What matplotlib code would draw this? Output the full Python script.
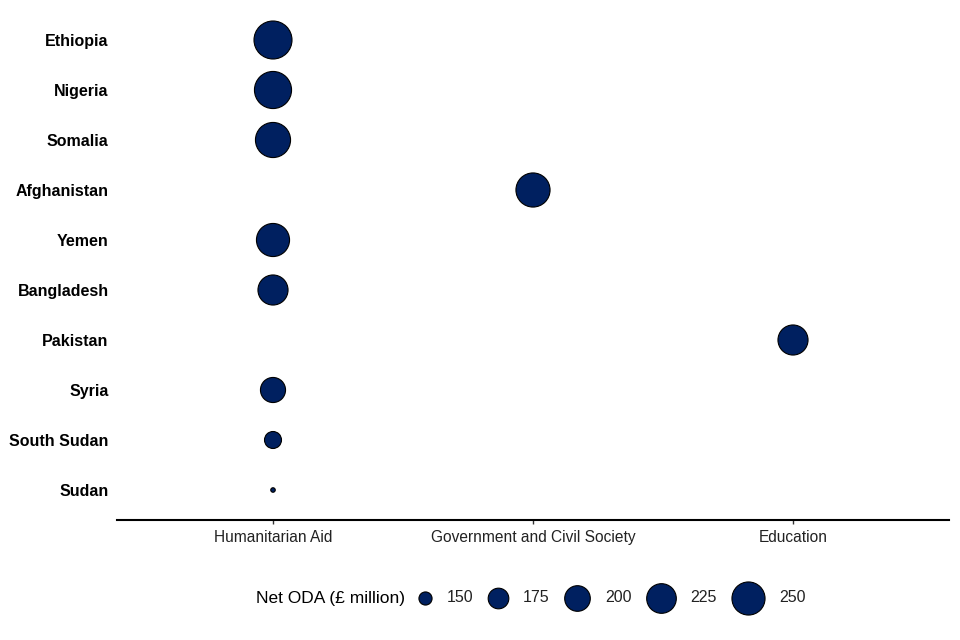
"""
Top ODA recipients by main sector - bubble chart
"""
import numpy as np
import matplotlib
matplotlib.use("Agg")
import matplotlib.pyplot as plt

plt.rcParams["font.family"] = ["Liberation Sans", "DejaVu Sans"]

countries = ["Ethiopia", "Nigeria", "Somalia", "Afghanistan", "Yemen",
             "Bangladesh", "Pakistan", "Syria", "South Sudan", "Sudan"]
sectors = ["Humanitarian Aid", "Humanitarian Aid", "Humanitarian Aid",
           "Government and Civil Society", "Humanitarian Aid", "Humanitarian Aid",
           "Education", "Humanitarian Aid", "Humanitarian Aid", "Humanitarian Aid"]
net_oda = [291, 283, 266, 258, 250, 228, 228, 197, 161, 140]

sector_order = ["Humanitarian Aid", "Government and Civil Society", "Education"]
legend_breaks = [150, 175, 200, 225, 250]

navy = "#002060"
vmin, vmax = min(net_oda), max(net_oda)


def size_px(v):
    # ggplot-like area scale: diameter grows with sqrt of rescaled value
    t = np.sqrt((np.asarray(v, dtype=float) - vmin) / (vmax - vmin))
    return 4.5 + 33.5 * t


def area_pt(v):
    return (size_px(v) * 0.72) ** 2


fig = plt.figure(figsize=(9.6, 6.4), dpi=100)
ax = fig.add_axes([117 / 960, 1 - 520 / 640, 832 / 960, 510 / 640])

xpos = [sector_order.index(s) for s in sectors]
ypos = [countries.index(c) for c in countries]
ax.scatter(xpos, ypos, s=area_pt(net_oda), color=navy, edgecolor="black",
           linewidth=0.8, zorder=3)

ax.set_xlim(-0.6, 2.6)
ax.set_ylim(len(countries) - 0.4, -0.6)
ax.set_xticks(range(len(sector_order)))
ax.set_xticklabels(sector_order, fontsize=11.2, color="#222222")
ax.set_yticks(range(len(countries)))
ax.set_yticklabels(countries, fontsize=11.5, fontweight="bold")
ax.tick_params(axis="y", length=0, pad=6)
ax.tick_params(axis="x", length=3, width=1, color="#333333", pad=4)

for side in ["top", "right", "left"]:
    ax.spines[side].set_visible(False)
ax.spines["bottom"].set_linewidth(1.5)

# legend drawn by hand so key widths grow with bubble size (as in ggplot)
leg = fig.add_axes([0, 0, 1, 1], zorder=5)
leg.set_xlim(0, 960)
leg.set_ylim(640, 0)
leg.axis("off")
ly = 598
leg.text(405, ly, "Net ODA (£ million)", ha="right", va="center", fontsize=12.5)
diam = size_px(legend_breaks)
cx = 425.0
for i, b in enumerate(legend_breaks):
    r = diam[i] / 2
    leg.scatter([cx], [ly], s=(diam[i] * 0.72) ** 2, color=navy,
                edgecolor="black", linewidth=0.8)
    leg.text(cx + r + 15, ly, str(b), ha="left", va="center", fontsize=11.5,
             color="#222222")
    if i + 1 < len(legend_breaks):
        cx += r + 15 + 26 + 15 + diam[i + 1] / 2

fig.savefig("out.png", dpi=100)
